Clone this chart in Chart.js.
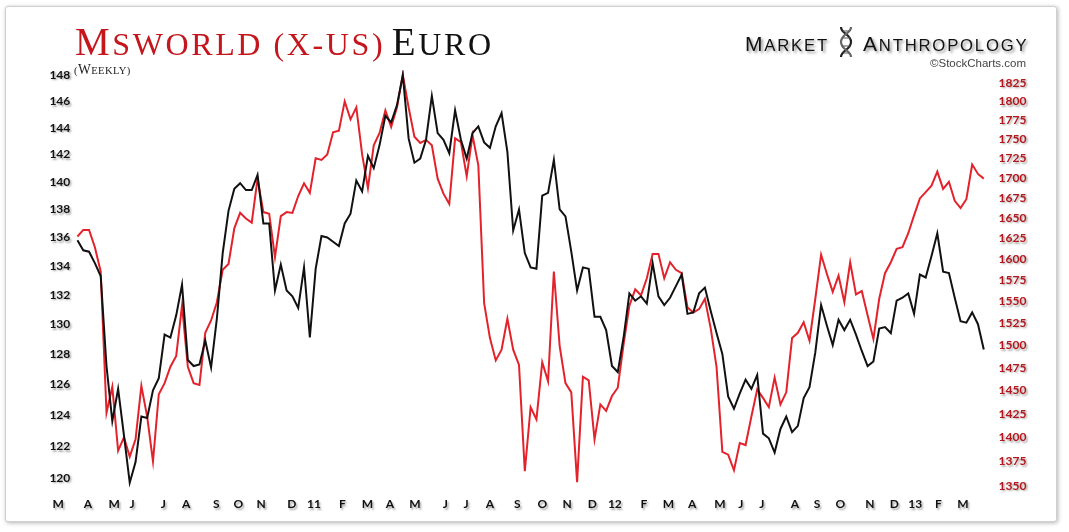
<!DOCTYPE html>
<html>
<head>
<meta charset="utf-8">
<script src="https://cdn.jsdelivr.net/npm/chart.js@4/dist/chart.umd.min.js"></script>
<style>
html, body { margin: 0; padding: 0; background: #fff; }
body { width: 1069px; height: 532px; position: relative; overflow: hidden; }
#frame { position: absolute; left: 5px; top: 6px; width: 1050px; height: 514px;
  border: 1px solid #d0d0d0; border-radius: 3px; box-shadow: 1px 1px 4px rgba(0,0,0,.3); background: #fff; }
#chart { position: absolute; left: 0; top: 0; }
.title { position: absolute; left: 75px; top: 22px; white-space: nowrap;
  font-family: "Liberation Serif", serif; line-height: 39px; letter-spacing: 2.6px; }
.title .big { font-size: 39px; }
.title .sm { font-size: 32px; }
.red { color: #c4161c; }
.blk { color: #111; }
.weekly { position: absolute; left: 74px; top: 62px; white-space: nowrap; color: #222;
  font-family: "Liberation Serif", serif; line-height: 14px; letter-spacing: .4px; }
.weekly .big { font-size: 13.6px; }
.weekly .sm { font-size: 10.6px; }
.logo { position: absolute; top: 33px; white-space: nowrap; color: #111;
  font-family: "Liberation Sans", sans-serif; line-height: 22px; letter-spacing: 1.8px;
  text-shadow: 2px 2px 3px rgba(0,0,0,.45); }
.logo .big { font-size: 21px; }
.logo .sm { font-size: 16.7px; }
.sc { position: absolute; left: 930px; top: 57px; font-family: "Liberation Sans", sans-serif;
  font-size: 11.5px; color: #444; white-space: nowrap; }
#dna { position: absolute; left: 838px; top: 26px; }
</style>
</head>
<body>
<div id="frame"></div>
<canvas id="chart" width="1069" height="532"></canvas>
<div class="title"><span class="red"><span class="big">M</span><span class="sm">SWORLD (X-US)</span></span> <span class="blk"><span class="big">E</span><span class="sm">URO</span></span></div>
<div class="weekly"><span class="sm">(</span><span class="big">W</span><span class="sm">EEKLY)</span></div>
<div class="logo" style="left:745px"><span class="big">M</span><span class="sm">ARKET</span></div>
<svg id="dna" width="16" height="32" viewBox="0 0 16 32">
  <path d="M3 1 C3 8 13 8 13 16 S3 24 3 31" stroke="#222" stroke-width="2.2" fill="none"/>
  <path d="M13 1 C13 8 3 8 3 16 S13 24 13 31" stroke="#666" stroke-width="2.2" fill="none"/>
  <path d="M5 5 H11 M4 12 H12 M4 20 H12 M5 27 H11" stroke="#555" stroke-width="1"/>
</svg>
<div class="logo" style="left:863px"><span class="big">A</span><span class="sm">NTHROPOLOGY</span></div>
<div class="sc">©StockCharts.com</div>
<script>
// Semanas (índice desde la primera barra semanal, mar-2010)
const msworldEuro = [
  135.8, 135.1, 135.0, 134.2, 133.3, 127.2, 123.6, 125.7, 122.7, 119.7,
  121.0, 123.9, 123.8, 125.6, 126.4, 129.3, 129.1, 130.6, 132.7, 127.6,
  127.2, 127.3, 128.9, 127.1, 130.4, 134.9, 137.9, 139.5, 139.9, 139.4,
  139.4, 140.5, 137.0, 137.0, 132.3, 134.1, 132.3, 131.9, 131.1, 133.9,
  129.1, 133.8, 136.1, 136.0, 135.7, 135.4, 137.0, 137.7, 140.1, 139.3,
  141.9, 141.0, 142.7, 144.9, 144.4, 145.7, 148.0, 143.2, 141.4, 141.7,
  143.1, 146.4, 143.6, 143.1, 142.1, 145.3, 143.1, 141.7, 143.6, 144.1,
  142.9, 142.5, 144.1, 145.1, 142.2, 136.5, 138.0, 134.9, 133.9, 133.8,
  139.0, 139.2, 141.6, 138.0, 137.5, 135.0, 132.3, 133.9, 133.8, 130.5,
  130.5, 129.6, 127.2, 126.8, 129.1, 132.1, 131.6, 131.9, 131.4, 134.2,
  131.9, 131.3, 131.8, 132.6, 133.4, 130.7, 130.8, 132.1, 132.5, 130.9,
  129.4, 128.0, 125.2, 124.4, 125.4, 126.3, 125.7, 126.6, 122.8,
  122.5, 121.6, 123.1, 123.9, 122.9, 123.3, 125.1, 125.8, 128.1, 131.3,
  129.9, 128.6, 130.3, 129.6, 130.3, 129.3, 128.2, 127.2, 127.5, 129.7,
  129.8, 129.4, 131.6, 131.8, 132.1, 130.7, 133.4, 133.2, 134.7, 136.3,
  133.6, 133.5, 131.8, 130.2, 130.1, 130.8, 130.0, 128.3
];

const msworldUsd = [
  1627, 1635, 1635, 1614, 1585, 1426, 1454, 1386, 1400, 1380,
  1398, 1455, 1422, 1375, 1446, 1458, 1476, 1488, 1545, 1476,
  1458, 1456, 1514, 1528, 1549, 1587, 1594, 1637, 1656, 1649,
  1644, 1699, 1657, 1655, 1602, 1652, 1657, 1656, 1677, 1693,
  1681, 1725, 1723, 1730, 1759, 1761, 1800, 1776, 1792, 1730,
  1687, 1742, 1758, 1788, 1766, 1792, 1836, 1792, 1753, 1745,
  1749, 1742, 1699, 1680, 1667, 1751, 1746, 1702, 1755, 1716,
  1548, 1508, 1483, 1495, 1530, 1495, 1478, 1365, 1432, 1419,
  1481, 1460, 1585, 1499, 1458, 1448, 1354, 1465, 1461, 1398,
  1435, 1428, 1444, 1453, 1501, 1545, 1564, 1557, 1577, 1606,
  1606, 1577, 1596, 1587, 1583, 1543, 1537, 1541, 1553, 1519,
  1476, 1385, 1382, 1366, 1394, 1392, 1422, 1451, 1442,
  1432, 1464, 1435, 1448, 1508, 1514, 1526, 1505, 1553, 1605,
  1582, 1561, 1580, 1549, 1596, 1558, 1562, 1534, 1507, 1553,
  1583, 1596, 1612, 1614, 1631, 1653, 1674, 1682, 1690, 1708,
  1686, 1695, 1671, 1662, 1673, 1717, 1705, 1699
];

const leftTicks = [120, 122, 124, 126, 128, 130, 132, 134, 136, 138, 140, 142, 144, 146, 148];
const rightTicks = [1350, 1375, 1400, 1425, 1450, 1475, 1500, 1525, 1550, 1575, 1600,
  1625, 1650, 1675, 1700, 1725, 1750, 1775, 1800, 1825];

const monthLetters = ['M','A','M','J','J','A','S','O','N','D','11','F','M','A','M','J','J','A','S','O',
  'N','D','12','F','M','A','M','J','J','A','S','O','N','D','13','F','M'];
const monthWeeks = [-3.3, 1.8, 6.3, 9.4, 14.8, 18.7, 23.9, 27.7, 31.6, 36.9, 40.7, 45.6, 49.9, 53.8,
  58.1, 63.3, 66.9, 71.0, 75.7, 80.0, 84.3, 88.6, 92.5, 97.5, 101.7, 105.8, 110.6, 114.2, 117.8,
  123.5, 127.3, 131.3, 136.4, 140.6, 144.2, 148.2, 152.4];

const tickFont = { family: 'Lato', weight: 'bold', size: 12 };

// sombra gris de las etiquetas de los ejes
const sombraEtiquetas = {
  id: 'sombraEtiquetas',
  beforeDraw(chart) {
    const c = chart.ctx;
    c.save();
    c.shadowColor = 'rgba(0,0,0,0.35)';
    c.shadowBlur = 2;
    c.shadowOffsetX = 1.5;
    c.shadowOffsetY = 1.5;
  },
  beforeDatasetsDraw(chart) {
    chart.ctx.restore();
  }
};

new Chart(document.getElementById('chart'), {
  type: 'line',
  data: {
    datasets: [{
      data: msworldEuro.map((v, i) => ({ x: i, y: v })),
      yAxisID: 'yL',
      borderColor: '#111',
      borderWidth: 2,
      pointRadius: 0,
      tension: 0
    }, {
      data: msworldUsd.map((v, i) => ({ x: i, y: v })),
      yAxisID: 'yR',
      borderColor: '#e3222b',
      borderWidth: 2,
      pointRadius: 0,
      tension: 0
    }]
  },
  options: {
    responsive: false,
    animation: false,
    layout: { padding: { left: 48.4, right: 34.4, top: 70, bottom: 12 } },
    plugins: { legend: { display: false }, tooltip: { enabled: false } },
    scales: {
      x: {
        type: 'linear', min: -5, max: 157,
        grid: { display: false, drawTicks: false },
        border: { display: false },
        ticks: { autoSkip: false, maxRotation: 0, padding: 7, color: '#111', font: tickFont,
          callback: (v, i) => monthLetters[i] },
        afterBuildTicks: s => { s.ticks = monthWeeks.map(v => ({ value: v })); },
        afterFit: s => { s.height = 30; }
      },
      yL: {
        type: 'logarithmic', position: 'left', min: 119.25, max: 148.39,
        grid: { display: false, drawTicks: false },
        border: { display: false },
        ticks: { mirror: true, padding: 1, color: '#111', font: tickFont, callback: v => String(v) },
        afterBuildTicks: s => { s.ticks = leftTicks.map(v => ({ value: v })); },
        afterFit: s => { s.width = 0; }
      },
      yR: {
        type: 'logarithmic', position: 'right', min: 1346, max: 1842.8,
        grid: { display: false, drawTicks: false },
        border: { display: false },
        ticks: { padding: 9, color: '#b3161c', font: tickFont, callback: v => String(v) },
        afterBuildTicks: s => { s.ticks = rightTicks.map(v => ({ value: v })); },
        afterFit: s => { s.width = 45; }
      }
    }
  },
  plugins: [sombraEtiquetas]
});
</script>
</body>
</html>
